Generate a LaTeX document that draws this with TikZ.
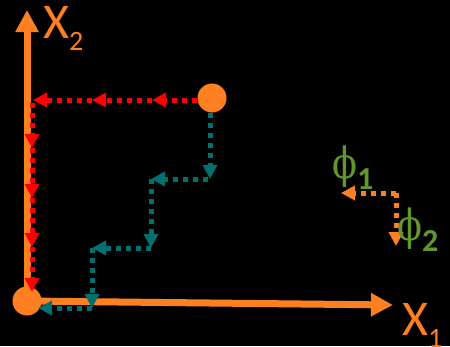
\documentclass[tikz,border=0pt]{standalone}
\usepackage{fontspec}
\setmainfont{Carlito}
\newfontfamily\phifont{DejaVu Serif}
\usetikzlibrary{arrows.meta}

\definecolor{axisorange}{RGB}{255,128,32}
\definecolor{pathred}{RGB}{255,0,0}
\definecolor{pathteal}{RGB}{0,112,112}
\definecolor{labelgreen}{RGB}{98,152,42}

\tikzset{
  axis/.style={draw=axisorange, line width=7pt, -{Triangle[length=22pt,width=22pt]}},
  dotted step/.style={line width=5pt, dash pattern=on 5pt off 5pt,
    -{Triangle[length=14pt,width=14pt]}},
  redstep/.style={dotted step, draw=pathred},
  tealstep/.style={dotted step, draw=pathteal},
  orangestep/.style={dotted step, draw=axisorange},
  pointdot/.style={circle, fill=axisorange, minimum size=29pt, inner sep=0pt},
  axislabel/.style={text=axisorange, inner sep=0pt, anchor=base west,
    font=\fontsize{50}{50}\selectfont},
  philabel/.style={text=labelgreen, inner sep=0pt, anchor=base west,
    font=\fontsize{43}{43}\selectfont},
}

\newcommand{\lowsub}[2]{\raisebox{#1}{\fontsize{28}{28}\selectfont #2}}
\newcommand{\phisub}[1]{\raisebox{-11pt}{\fontsize{32}{32}\selectfont\bfseries #1}}
\newcommand{\phiglyph}{\scalebox{0.85}[1]{\phifont ϕ}}

\begin{document}
\begin{tikzpicture}[x=1pt, y=-1pt]
  \fill[black] (0,0) rectangle (450,346);
  \useasboundingbox (0,0) rectangle (450,346);

  % axis ends and points
  \coordinate (o) at (27,301);
  \coordinate (x2tip) at (27,10);
  \coordinate (x1tip) at (393,305);

  % axes
  \draw[axis] (o) -- (x2tip);
  \draw[axis] (o) -- (x1tip);

  % the two points
  \node[pointdot] (origin) at (o) {};
  \node[pointdot] (p) at (212,98) {};

  % axis labels
  \node[axislabel] (lx2) at (43,38) {X\lowsub{-12pt}{2}};
  \node[axislabel] (lx1) at (402,335) {X\lowsub{-12pt}{1}};

  % red route: left along X1 direction, then down along X2
  \coordinate (r1) at (152,100);
  \coordinate (r2) at (92,100);
  \coordinate (r3) at (33,100);
  \coordinate (r4) at (32,148);
  \coordinate (r5) at (32,198);
  \coordinate (r6) at (32,247);
  \coordinate (r7) at (32,292);
  \draw[redstep] (p.west |- r1) -- (r1);
  \draw[redstep] (r1) -- (r2);
  \draw[redstep] (r2) -- (r3);
  \draw[redstep] (32,103) -- (r4);
  \draw[redstep] (r4) -- (r5);
  \draw[redstep] (r5) -- (r6);
  \draw[redstep] (r6) -- (r7);

  % teal staircase route
  \coordinate (t1) at (210,179);
  \coordinate (t2) at (151,179);
  \coordinate (t3) at (151,248);
  \coordinate (t4) at (92,248);
  \coordinate (t5) at (92,308);
  \coordinate (t6) at (38,308);
  \draw[tealstep] (p.south -| t1) -- (t1);
  \draw[tealstep] (208,179) -- (t2);
  \draw[tealstep] (t2) -- (t3);
  \draw[tealstep] (t3) -- (t4);
  \draw[tealstep] (t4) -- (t5);
  \draw[tealstep] (t5) -- (t6);

  % direction key
  \coordinate (k) at (396,193);
  \coordinate (k1) at (341,193);
  \coordinate (k2) at (396,246);
  \draw[orangestep] (k) -- (k1);
  \draw[orangestep] (k) -- (k2);
  \node[philabel] (phi1) at (332,178) {\phiglyph\phisub{1}};
  \node[philabel] (phi2) at (397,240) {\phiglyph\phisub{2}};
\end{tikzpicture}
\end{document}
